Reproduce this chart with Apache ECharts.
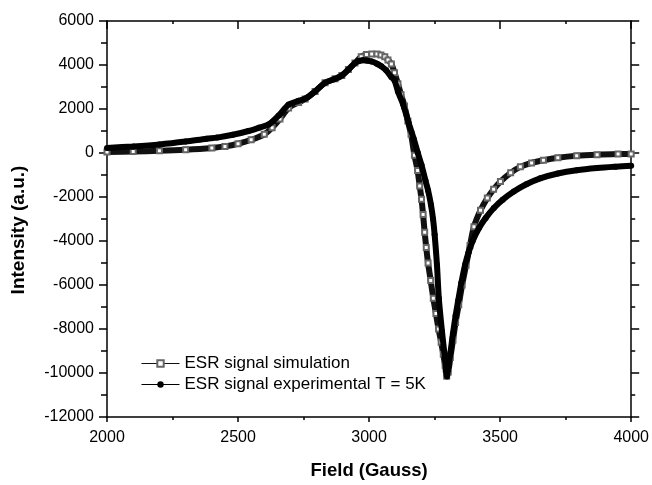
<!DOCTYPE html>
<html>
<head>
<meta charset="utf-8">
<script src="https://cdn.jsdelivr.net/npm/echarts@6/dist/echarts.min.js"></script>
<style>
  html, body { margin: 0; padding: 0; background: #fff; }
  #chart { width: 652px; height: 485px; }
</style>
</head>
<body>
<div id="chart"></div>
<script>
// ESR simulation (open squares)
const simField = [2000, 2100, 2200, 2300, 2400, 2450, 2500, 2550, 2600, 2630, 2660, 2693, 2731, 2756, 2794, 2832, 2870, 2896, 2921, 2946, 2970, 2990, 3010, 3030, 3045, 3060, 3072, 3085, 3097, 3110, 3122, 3135, 3148, 3160, 3173, 3185, 3193, 3200, 3206, 3212, 3218, 3225, 3235, 3245, 3255, 3265, 3275, 3283, 3290, 3296, 3302, 3310, 3320, 3330, 3342, 3355, 3370, 3385, 3400, 3425, 3451, 3475, 3501, 3540, 3577, 3620, 3665, 3720, 3792, 3870, 3950, 4000];
const simIntensity = [50, 70, 100, 150, 230, 300, 420, 600, 850, 1150, 1550, 2050, 2300, 2450, 2800, 3190, 3370, 3520, 3790, 4090, 4380, 4480, 4500, 4500, 4460, 4370, 4230, 4050, 3650, 3150, 2650, 2140, 1450, 850, -100, -800, -1500, -2100, -2800, -3600, -4300, -5000, -5800, -6600, -7300, -8000, -8600, -9150, -9650, -10150, -9950, -9300, -8500, -7700, -6900, -6000, -5100, -4200, -3350, -2600, -2050, -1650, -1300, -900, -630, -450, -330, -220, -130, -80, -50, -40];

// ESR experimental T = 5K (filled circles)
const expField = [2000, 2100, 2200, 2300, 2380, 2420, 2480, 2540, 2580, 2617, 2655, 2693, 2731, 2756, 2794, 2832, 2870, 2896, 2921, 2946, 2962, 2975, 2990, 3009, 3030, 3047, 3065, 3085, 3097, 3110, 3130, 3150, 3170, 3186, 3200, 3215, 3225, 3236, 3244, 3250, 3259, 3266, 3278, 3289, 3294, 3297, 3300, 3310, 3320, 3330, 3340, 3352, 3366, 3380, 3395, 3420, 3445, 3476, 3510, 3552, 3600, 3653, 3720, 3792, 3870, 3940, 4000];
const expIntensity = [230, 300, 390, 520, 650, 700, 830, 1000, 1150, 1300, 1700, 2200, 2370, 2470, 2800, 3190, 3370, 3520, 3790, 4090, 4180, 4220, 4200, 4160, 4060, 3940, 3760, 3450, 3300, 2800, 2200, 1400, 650, 0, -550, -1250, -1700, -2350, -3000, -3700, -5100, -6600, -8100, -9300, -9850, -10150, -9900, -9100, -8200, -7400, -6700, -5900, -5100, -4500, -4000, -3400, -2950, -2500, -2120, -1750, -1420, -1150, -930, -780, -680, -620, -580];

const xTicks = [2000, 4000, 500];
const yTicks = [-12000, 6000, 2000];

const simData = simField.map((f, i) => [f, simIntensity[i]]);
const expData = expField.map((f, i) => [f, expIntensity[i]]);

const chart = echarts.init(document.getElementById("chart"));
const font = "Liberation Sans, Arial, sans-serif";
const axisLine = { show: true, onZero: false, lineStyle: { color: "#000", width: 1.5 } };

const option = {
  animation: false,
  backgroundColor: "#fff",
  grid: { left: 107, right: 17, top: 21, bottom: 63 },
  legend: {
    orient: "vertical",
    left: 136,
    top: 350,
    itemGap: 4,
    itemWidth: 38,
    itemHeight: 8,
    lineStyle: { width: 1 },
    textStyle: { fontFamily: font, fontSize: 17, lineHeight: 17, color: "#000" },
    data: ["ESR signal simulation", "ESR signal experimental T = 5K"],
  },
  xAxis: [
    {
      type: "value",
      position: "bottom",
      min: xTicks[0],
      max: xTicks[1],
      interval: xTicks[2],
      name: "Field (Gauss)",
      nameLocation: "middle",
      nameGap: 44,
      nameTextStyle: { fontFamily: font, fontSize: 18.5, fontWeight: "bold", color: "#000" },
      axisLine,
      axisTick: { show: true, inside: false, length: 5, lineStyle: { color: "#000", width: 1.5 } },
      minorTick: { show: true, splitNumber: 2, length: 3, lineStyle: { color: "#000", width: 1.5 } },
      axisLabel: { fontFamily: font, fontSize: 16, color: "#000", margin: 13, formatter: (v) => String(v) },
      splitLine: { show: false },
    },
    {
      type: "value",
      position: "top",
      min: xTicks[0],
      max: xTicks[1],
      interval: xTicks[2],
      axisLine,
      axisTick: { show: true, inside: true, length: 8, lineStyle: { color: "#000", width: 1.5 } },
      minorTick: { show: true, splitNumber: 2, length: 3, lineStyle: { color: "#000", width: 1.5 } },
      axisLabel: { show: false },
      splitLine: { show: false },
    },
  ],
  yAxis: [
    {
      type: "value",
      position: "left",
      min: yTicks[0],
      max: yTicks[1],
      interval: yTicks[2],
      name: "Intensity (a.u.)",
      nameLocation: "middle",
      nameGap: 79,
      nameTextStyle: { fontFamily: font, fontSize: 19, fontWeight: "bold", color: "#000", padding: [0, 22, 0, 0] },
      axisLine,
      axisTick: { show: true, inside: false, length: 8, lineStyle: { color: "#000", width: 1.5 } },
      minorTick: { show: true, splitNumber: 2, length: 6, lineStyle: { color: "#000", width: 1.5 } },
      axisLabel: { fontFamily: font, fontSize: 16, color: "#000", margin: 13, formatter: (v) => String(v) },
      splitLine: { show: false },
    },
    {
      type: "value",
      position: "right",
      min: yTicks[0],
      max: yTicks[1],
      interval: yTicks[2],
      axisLine,
      axisTick: { show: true, inside: false, length: 8, lineStyle: { color: "#000", width: 1.5 } },
      minorTick: { show: true, splitNumber: 2, length: 4, lineStyle: { color: "#000", width: 1.5 } },
      axisLabel: { show: false },
      splitLine: { show: false },
    },
  ],
  series: [
    {
      name: "ESR signal simulation",
      type: "line",
      data: simData,
      smooth: 0.3,
      showAllSymbol: true,
      symbol: "emptyRect",
      symbolSize: 5,
      lineStyle: { color: "#111", width: 6 },
      itemStyle: { color: "#666", borderWidth: 1 },
      z: 2,
    },
    {
      name: "ESR signal experimental T = 5K",
      type: "line",
      data: expData,
      smooth: 0.3,
      showAllSymbol: true,
      symbol: "circle",
      symbolSize: 6,
      lineStyle: { color: "#000", width: 6 },
      itemStyle: { color: "#000" },
      z: 3,
    },
  ],
};
chart.setOption(option);
</script>
</body>
</html>
